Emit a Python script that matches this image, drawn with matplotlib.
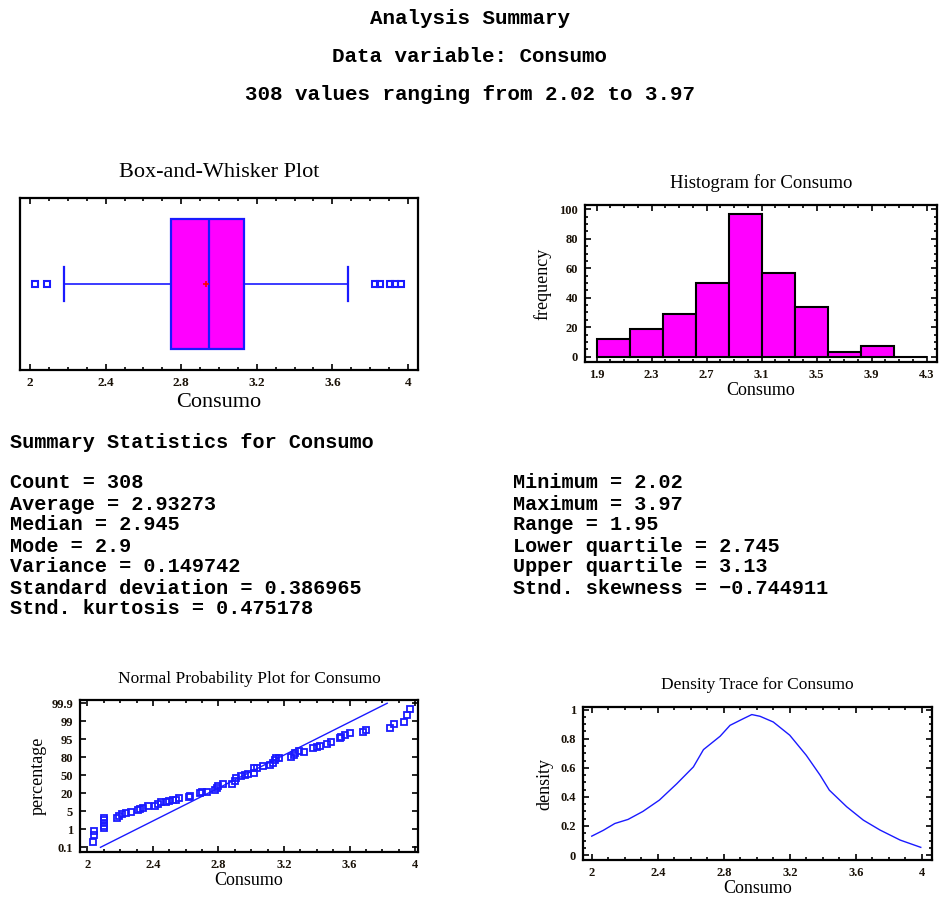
import numpy as np
import matplotlib
matplotlib.use("Agg")
import matplotlib.pyplot as plt
from matplotlib.ticker import FixedLocator, MultipleLocator, FuncFormatter

MAG = "#FF00FF"
BLUE = "#1a1aff"
SERIF = ["Liberation Serif", "DejaVu Serif"]
MONO = ["Liberation Mono", "DejaVu Sans Mono"]

# header + summary text
header_lines = ["Analysis Summary", "Data variable: Consumo",
                "308 values ranging from 2.02 to 3.97"]
stats_title = "Summary Statistics for Consumo"
stats_left = ["Count = 308", "Average = 2.93273", "Median = 2.945", "Mode = 2.9",
              "Variance = 0.149742", "Standard deviation = 0.386965",
              "Stnd. kurtosis = 0.475178"]
stats_right = ["Minimum = 2.02", "Maximum = 3.97", "Range = 1.95",
               "Lower quartile = 2.745", "Upper quartile = 3.13",
               "Stnd. skewness = \u22120.744911"]

# box-and-whisker
box_q1, box_med, box_q3, box_mean = 2.745, 2.945, 3.13, 2.93273
whisk_lo, whisk_hi = 2.18, 3.68
outliers = [2.025, 2.09, 3.825, 3.85, 3.905, 3.93, 3.965]

# histogram
hist_edges = [1.9, 2.14, 2.38, 2.62, 2.86, 3.10, 3.34, 3.58, 3.82, 4.06, 4.30]
hist_counts = [12, 19, 29, 50, 97, 57, 34, 3, 7, 0]

# normal probability plot
npp_x = [2.035, 2.04, 2.04, 2.10, 2.10, 2.10, 2.10, 2.10, 2.18, 2.19, 2.21, 2.235,
         2.265, 2.31, 2.32, 2.34, 2.37, 2.41, 2.43, 2.45, 2.48, 2.50, 2.52, 2.54,
         2.56, 2.625, 2.62, 2.70, 2.69, 2.73, 2.78, 2.79, 2.80, 2.83, 2.88, 2.90,
         2.91, 2.94, 2.96, 2.98, 3.015, 3.02, 3.035, 3.075, 3.115, 3.13, 3.146,
         3.15, 3.17, 3.24, 3.26, 3.27, 3.29, 3.32, 3.38, 3.40, 3.42, 3.465, 3.49,
         3.54, 3.55, 3.57, 3.60, 3.68, 3.70, 3.85, 3.87, 3.93, 3.95, 3.97]
npp_pct = [0.38, 0.71, 0.91, 1.2, 1.8, 2.3, 3.0, 3.6, 3.6, 4.0, 4.4, 4.7,
           4.9, 6.0, 6.8, 8.0, 9.4, 9.6, 11.0, 12.5, 13.0, 13.5, 14.0, 14.8,
           15.8, 17.8, 17.2, 21.5, 20.5, 21.5, 25.4, 28.0, 32.6, 35.0, 35.0, 40.0,
           45.0, 48.8, 50.0, 51.5, 53.3, 61.7, 62.6, 65.9, 67.1, 70.0, 75.5,
           78.0, 79.4, 80.5, 82.0, 83.3, 85.3, 84.7, 87.5, 88.5, 89.6, 90.8, 93.0,
           95.2, 95.6, 96.0, 96.3, 96.6, 97.1, 97.6, 98.3, 98.8, 99.3, 99.6]
fit_x = [2.08, 3.83]
fit_pct = [0.1, 99.9]
pct_labels = [0.1, 1, 5, 20, 50, 80, 95, 99, 99.9]

# density trace
dens_x = [2.00, 2.07, 2.14, 2.22, 2.31, 2.41, 2.515, 2.616, 2.677, 2.778, 2.838,
          2.919, 2.97, 3.02, 3.10, 3.20, 3.30, 3.384, 3.44, 3.545, 3.646, 3.747,
          3.869, 3.994]
dens_y = [0.13, 0.17, 0.217, 0.245, 0.30, 0.378, 0.49, 0.606, 0.725, 0.817, 0.892,
          0.938, 0.966, 0.954, 0.915, 0.824, 0.686, 0.549, 0.446, 0.332, 0.24, 0.172,
          0.103, 0.053]

fig = plt.figure(figsize=(9.4, 8.99), dpi=100)
W, H = 940, 899


def add_ax(l, t, r, b):
    return fig.add_axes([l / W, 1 - b / H, (r - l) / W, (b - t) / H])


def gfmt(v, pos):
    return "%g" % round(v, 4)


def style(ax, ticksize=9.5):
    for s in ax.spines.values():
        s.set_linewidth(1.6)
    ax.tick_params(which="both", direction="in", top=True, right=True,
                   labelsize=ticksize, width=1.2)
    ax.tick_params(which="major", length=4, pad=5)
    ax.tick_params(which="minor", length=2)
    for lab in ax.get_xticklabels() + ax.get_yticklabels():
        lab.set_family(SERIF)
        lab.set_fontweight("bold")
        lab.set_color("#1a1208")


# header text
for txt, y in zip(header_lines, [18, 57, 95]):
    fig.text(0.5, 1 - y / H, txt, ha="center", va="center", family=MONO,
             fontweight="bold", fontsize=15)
fig.text(10 / W, 1 - 442 / H, stats_title, ha="left", va="center", family=MONO,
         fontweight="bold", fontsize=14.5)
for i, txt in enumerate(stats_left):
    fig.text(10 / W, 1 - (483 + 21 * i) / H, txt, ha="left", va="center",
             family=MONO, fontweight="bold", fontsize=14.5)
for i, txt in enumerate(stats_right):
    fig.text(513 / W, 1 - (483 + 21 * i) / H, txt, ha="left", va="center",
             family=MONO, fontweight="bold", fontsize=14.5)

# box-and-whisker
ax1 = add_ax(20, 198, 418, 370)
bstats = [dict(med=box_med, q1=box_q1, q3=box_q3, mean=box_mean,
               whislo=whisk_lo, whishi=whisk_hi, fliers=outliers)]
ax1.bxp(bstats, positions=[1], widths=0.76, vert=False, patch_artist=True,
        showmeans=True, capwidths=0.2,
        boxprops=dict(facecolor=MAG, edgecolor=BLUE, linewidth=1.6),
        medianprops=dict(color=BLUE, linewidth=1.6),
        whiskerprops=dict(color=BLUE, linewidth=1.2),
        capprops=dict(color=BLUE, linewidth=1.6),
        flierprops=dict(marker="s", markerfacecolor="none", markeredgecolor=BLUE,
                        markersize=4, markeredgewidth=1.5),
        meanprops=dict(marker="+", markeredgecolor="red", markersize=5,
                       markeredgewidth=1.2))
ax1.set_xlim(1.947, 4.053)
ax1.set_ylim(0.5, 1.5)
ax1.set_yticks([])
ax1.xaxis.set_major_locator(FixedLocator([2, 2.4, 2.8, 3.2, 3.6, 4]))
ax1.xaxis.set_minor_locator(MultipleLocator(0.1))
ax1.xaxis.set_major_formatter(FuncFormatter(gfmt))
style(ax1)
ax1.tick_params(left=False, right=False, which="both")
ax1.set_title("Box-and-Whisker Plot", family=SERIF, fontsize=16, pad=15)
ax1.set_xlabel("Consumo", family=SERIF, fontsize=16, labelpad=3)

# histogram
ax2 = add_ax(585, 205, 937, 362)
ax2.bar(hist_edges[:-1], hist_counts, width=np.diff(hist_edges), align="edge",
        color=MAG, edgecolor="black", linewidth=1.5)
ax2.set_xlim(1.815, 4.375)
ax2.set_ylim(-3.6, 102.9)
ax2.xaxis.set_major_locator(FixedLocator([1.9, 2.3, 2.7, 3.1, 3.5, 3.9, 4.3]))
ax2.xaxis.set_minor_locator(MultipleLocator(0.1))
ax2.yaxis.set_major_locator(MultipleLocator(20))
ax2.yaxis.set_minor_locator(MultipleLocator(5))
ax2.xaxis.set_major_formatter(FuncFormatter(gfmt))
style(ax2, 9)
ax2.set_title("Histogram for Consumo", family=SERIF, fontsize=13.5, pad=12)
ax2.set_xlabel("Consumo", family=SERIF, fontsize=13, labelpad=1)
ax2.set_ylabel("frequency", family=SERIF, fontsize=13, labelpad=6)

# normal probability plot
lev = [0.0] + pct_labels + [100.0]
pos = list(range(-1, len(pct_labels) + 1))


def fwd(p):
    return np.interp(p, lev, pos)


def inv(i):
    return np.interp(i, pos, lev)


ax3 = add_ax(80, 700, 418, 852)
ax3.set_yscale("function", functions=(fwd, inv))
ax3.plot(fit_x, fit_pct, color=BLUE, linewidth=1)
ax3.plot(npp_x, npp_pct, linestyle="none", marker="s", markerfacecolor="none",
         markeredgecolor=BLUE, markersize=4.5, markeredgewidth=1.3)
ax3.set_xlim(1.955, 4.018)
ax3.set_ylim(inv(-0.26), inv(8.18))
ax3.yaxis.set_major_locator(FixedLocator(pct_labels))
ax3.yaxis.set_minor_locator(FixedLocator([]))
ax3.yaxis.set_major_formatter(FuncFormatter(gfmt))
ax3.xaxis.set_major_locator(FixedLocator([2, 2.4, 2.8, 3.2, 3.6, 4]))
ax3.xaxis.set_minor_locator(MultipleLocator(0.1))
ax3.xaxis.set_major_formatter(FuncFormatter(gfmt))
style(ax3, 9)
ax3.set_title("Normal Probability Plot for Consumo", family=SERIF, fontsize=12.5,
              pad=12)
ax3.set_xlabel("Consumo", family=SERIF, fontsize=13, labelpad=1)
ax3.set_ylabel("percentage", family=SERIF, fontsize=13, labelpad=3)

# density trace
ax4 = add_ax(583, 707, 932, 860)
ax4.plot(dens_x, dens_y, color=BLUE, linewidth=1)
ax4.set_xlim(1.947, 4.062)
ax4.set_ylim(-0.034, 1.018)
ax4.xaxis.set_major_locator(FixedLocator([2, 2.4, 2.8, 3.2, 3.6, 4]))
ax4.xaxis.set_minor_locator(MultipleLocator(0.1))
ax4.yaxis.set_major_locator(MultipleLocator(0.2))
ax4.yaxis.set_minor_locator(MultipleLocator(0.05))
ax4.xaxis.set_major_formatter(FuncFormatter(gfmt))
ax4.yaxis.set_major_formatter(FuncFormatter(gfmt))
style(ax4, 9)
ax4.set_title("Density Trace for Consumo", family=SERIF, fontsize=12.5, pad=13)
ax4.set_xlabel("Consumo", family=SERIF, fontsize=13, labelpad=1)
ax4.set_ylabel("density", family=SERIF, fontsize=13, labelpad=5)

fig.savefig("out.png", dpi=100)
